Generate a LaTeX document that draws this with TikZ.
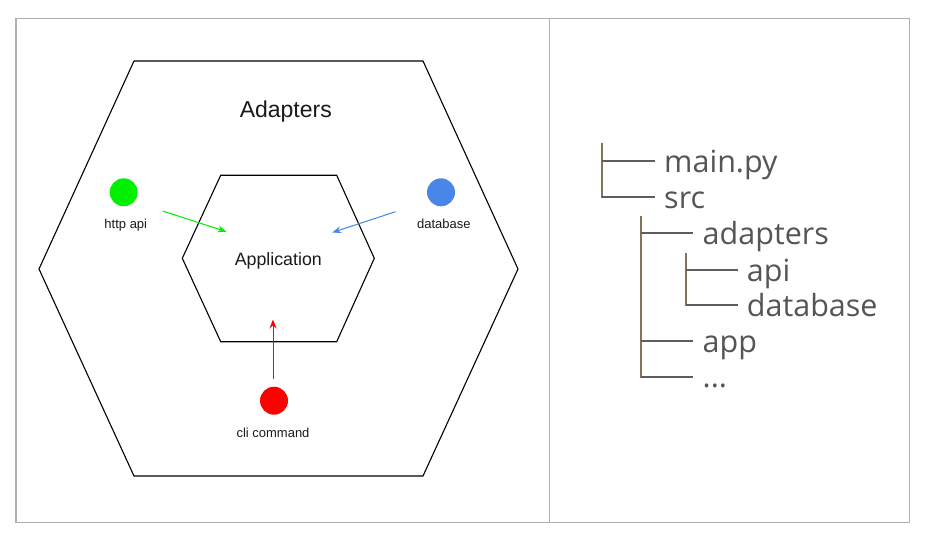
\documentclass[tikz,border=0pt]{standalone}
\usepackage{fontspec}
\setmainfont{Liberation Sans}
\newfontfamily\treefont{Open Sans}
\usetikzlibrary{arrows.meta}
\definecolor{framegray}{HTML}{B0B0B0}
\definecolor{txtdark}{HTML}{1A1A1A}
\definecolor{treetxt}{HTML}{555555}
\definecolor{treeh}{HTML}{5E5E5E}
\definecolor{treev}{HTML}{85725A}
\definecolor{apigreen}{HTML}{00F000}
\definecolor{dbblue}{HTML}{4A86E8}
\definecolor{clired}{HTML}{FF0000}
\tikzset{
  framebox/.style={draw=framegray, line width=1.5pt},
  hexline/.style={draw=black, line width=1.1pt, line join=miter},
  dot/.style={circle, inner sep=0pt, minimum size=28pt},
  smalllabel/.style={font=\fontsize{13}{15}\selectfont, text=txtdark, anchor=base, inner sep=0pt},
  flowarrow/.style={line width=1pt, -{Stealth[length=9pt, width=7pt, inset=3pt]}},
  treeentry/.style={font=\treefont\fontsize{30.5}{34}\selectfont, text=treetxt, anchor=base west, inner sep=0pt},
  treehline/.style={draw=treeh, line width=2pt},
  treevline/.style={draw=treev, line width=2pt},
}
\begin{document}
\begin{tikzpicture}[x=1pt, y=-1pt]
\useasboundingbox (0,0) rectangle (928,540);
\fill[white] (0,0) rectangle (928,540);
% frames
\draw[framebox] (16,18.5) rectangle (909.5,522.5);
\draw[framebox] (549.3,18.5) -- (549.3,522.5);
% hexagons
\draw[hexline] (39,269) -- (134,61) -- (423,61) -- (518,269) -- (423,476) -- (134,476) -- cycle;
\draw[hexline] (182.3,258.3) -- (220.7,175.3) -- (336.7,175.3) -- (374.3,258.3) -- (336.7,341.7) -- (220.7,341.7) -- cycle;
% texts
\node[font=\fontsize{23}{26}\selectfont, text=txtdark, anchor=base, inner sep=0pt] (adapters) at (285.8,117.7) {Adapters};
\node[font=\fontsize{17.8}{20}\selectfont, text=txtdark, anchor=base, inner sep=0pt] (application) at (278.3,265) {Application};
% adapters
\node[dot, fill=apigreen] (http) at (123.7,192.3) {};
\node[smalllabel] (httplabel) at (125.8,228.7) {http api};
\node[dot, fill=dbblue] (db) at (441,192.3) {};
\node[smalllabel] (dblabel) at (443.8,228.7) {database};
\node[dot, fill=clired] (cli) at (274,400.7) {};
\node[smalllabel] (clilabel) at (273,437.7) {cli command};
% arrow ends
\coordinate (gs) at (162.7,211);
\coordinate (ge) at (226.5,231.7);
\coordinate (bs) at (395.5,211.7);
\coordinate (be) at (332.3,232.5);
\coordinate (rs) at (273,379);
\coordinate (re) at (273,319.5);
\draw[flowarrow, draw=apigreen, fill=apigreen] (gs) -- (ge);
\draw[flowarrow, draw=dbblue, fill=dbblue] (bs) -- (be);
\draw[flowarrow, draw=clired, fill=clired] (rs) -- (re);
% tree
\coordinate (v1t) at (601.5,143);
\coordinate (v1b) at (601.5,197.5);
\coordinate (h1) at (655,161);
\coordinate (h2) at (655,197);
\draw[treevline] (v1t) -- (v1b);
\draw[treehline] (601.5,161) -- (h1);
\draw[treehline] (601.5,197) -- (h2);
\node[treeentry] (mainpy) at (664,172) {main.py};
\node[treeentry] (src) at (664,208) {src};
\coordinate (v2t) at (641,216);
\coordinate (v2b) at (641,377.7);
\draw[treevline] (v2t) -- (v2b);
\draw[treehline] (641,233.3) -- (693,233.3);
\draw[treehline] (641,341) -- (693,341);
\draw[treehline] (641,376.7) -- (693,376.7);
\node[treeentry] (adapdir) at (702.5,244.3) {adapters};
\node[treeentry] (appdir) at (702.5,352) {app};
\node[treeentry] (dots) at (702.5,387.7) {...};
\coordinate (v3t) at (685.7,252.5);
\coordinate (v3b) at (685.7,305.5);
\draw[treevline] (v3t) -- (v3b);
\draw[treehline] (685.7,270) -- (738,270);
\draw[treehline] (685.7,305) -- (738,305);
\node[treeentry] (apidir) at (746.7,281) {api};
\node[treeentry] (dbdir) at (746.7,316) {database};
\end{tikzpicture}
\end{document}
